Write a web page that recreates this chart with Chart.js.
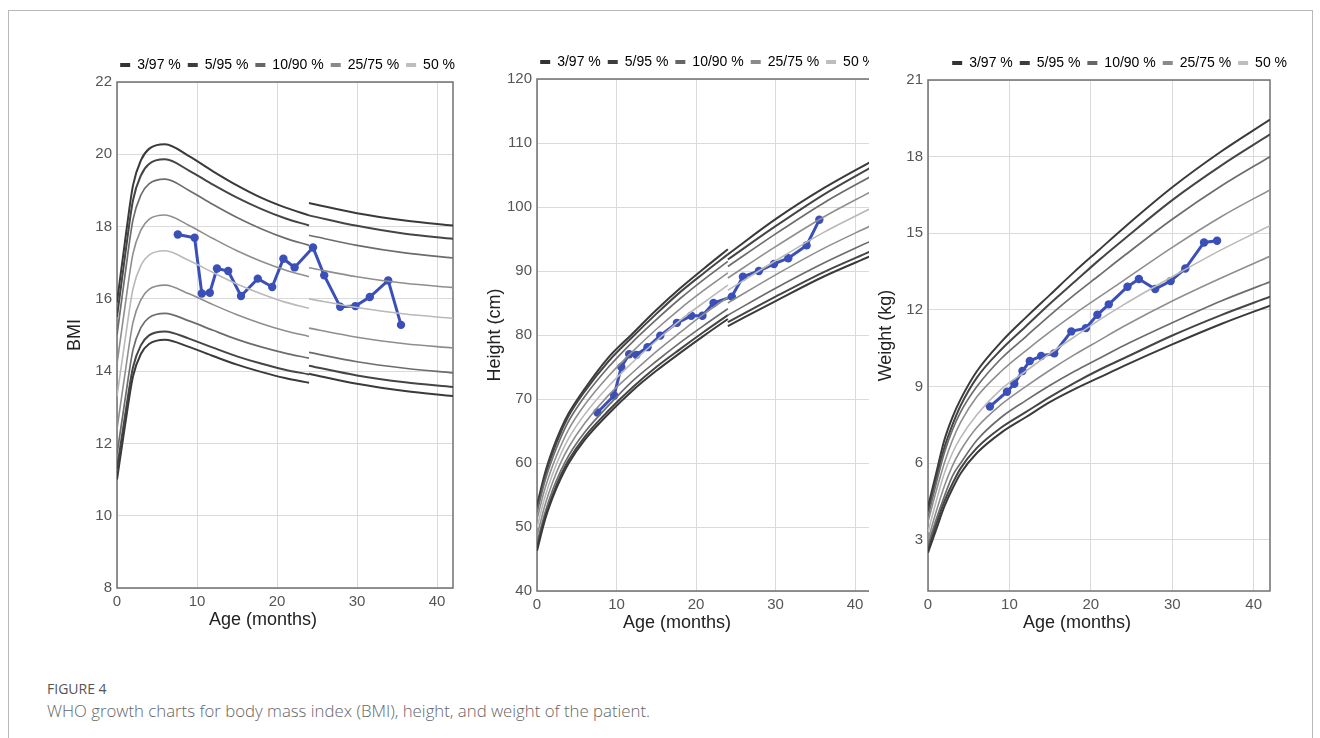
<!DOCTYPE html>
<html>
<head>
<meta charset="utf-8">
<title>WHO growth charts</title>
<script src="https://cdn.jsdelivr.net/npm/chart.js@4.4.1/dist/chart.umd.min.js"></script>
<style>
  body { margin: 0; width: 1320px; height: 738px; overflow: hidden; position: relative; background: #fff; }
  .frame { position: absolute; left: 8px; top: 10px; width: 1303px; height: 740px; border: 1px solid #b8b8b8; }
  .box { position: absolute; }
  #clip2 { position: absolute; left: 480px; top: 40px; width: 389px; height: 596px; overflow: hidden; }
  .cap-num { position: absolute; left: 47px; top: 679px; font: 14px 'Open Sans', sans-serif; color: #555; }
  .cap-text { position: absolute; left: 47px; top: 699px; font: 300 16.8px 'Open Sans', sans-serif; color: #666; }
</style>
</head>
<body>
<div class="frame"></div>

<div class="box" style="left:60px; top:40px; width:402px; height:593px;"><canvas id="bmiChart"></canvas></div>
<div id="clip2"><div style="width:402px; height:596px;"><canvas id="heightChart"></canvas></div></div>
<div class="box" style="left:871px; top:40px; width:423px; height:596px;"><canvas id="weightChart"></canvas></div>

<div class="cap-num">FIGURE 4</div>
<div class="cap-text">WHO growth charts for body mass index (BMI), height, and weight of the patient.</div>

<script>
// --- legend / ticks ---
const legendNames = ['3/97 %', '5/95 %', '10/90 %', '25/75 %', '50 %'];
const ageTicks = [0, 10, 20, 30, 40];
const weightTicks = [3, 6, 9, 12, 15, 18, 21];

// --- patient ---
const patientAges = [7.6, 9.7, 10.6, 11.6, 12.5, 13.9, 15.5, 17.6, 19.4, 20.8, 22.2, 24.5, 25.9, 27.9, 29.8, 31.6, 33.9, 35.5];
const patientBmi = [17.78, 17.69, 16.15, 16.17, 16.84, 16.77, 16.08, 16.56, 16.33, 17.11, 16.87, 17.42, 16.65, 15.78, 15.8, 16.05, 16.51, 15.28];
const patientHeight = [67.9, 70.55, 75.0, 77.0, 76.9, 78.1, 79.9, 81.9, 83.0, 83.0, 85.0, 86.0, 89.1, 90.0, 91.1, 92.0, 94.0, 98.0];
const patientWeight = [8.22, 8.8, 9.11, 9.61, 10.0, 10.2, 10.3, 11.16, 11.29, 11.81, 12.22, 12.91, 13.21, 12.82, 13.13, 13.62, 14.64, 14.71];

// --- BMI reference curves (null = break at 24 months) ---
const bmiAges = [0, 1, 2, 3, 4, 6, 9, 12, 15, 18, 21, 24, 24, 24, 30, 36, 42];
const bmiP3 = [11.0, 12.49, 13.86, 14.48, 14.75, 14.87, 14.67, 14.42, 14.18, 13.98, 13.81, 13.68, null, 13.93, 13.65, 13.45, 13.31];
const bmiP5 = [11.3, 12.76, 14.11, 14.72, 14.99, 15.1, 14.9, 14.65, 14.41, 14.21, 14.04, 13.91, null, 14.15, 13.88, 13.69, 13.56];
const bmiP10 = [11.7, 13.2, 14.59, 15.21, 15.48, 15.6, 15.39, 15.13, 14.88, 14.67, 14.5, 14.36, null, 14.52, 14.26, 14.08, 13.95];
const bmiP25 = [12.4, 13.93, 15.35, 15.98, 16.26, 16.38, 16.14, 15.84, 15.56, 15.32, 15.12, 14.96, null, 15.19, 14.94, 14.76, 14.64];
const bmiP50 = [13.3, 14.85, 16.28, 16.93, 17.21, 17.33, 17.06, 16.73, 16.41, 16.14, 15.91, 15.74, null, 16.0, 15.76, 15.58, 15.46];
const bmiP75 = [14.2, 15.79, 17.25, 17.91, 18.2, 18.32, 18.03, 17.67, 17.33, 17.04, 16.8, 16.61, null, 16.86, 16.61, 16.43, 16.31];
const bmiP90 = [15.0, 16.66, 18.19, 18.88, 19.18, 19.31, 19.0, 18.61, 18.25, 17.94, 17.68, 17.48, null, 17.76, 17.48, 17.27, 17.13];
const bmiP95 = [15.5, 17.18, 18.73, 19.42, 19.73, 19.86, 19.55, 19.16, 18.8, 18.49, 18.23, 18.03, null, 18.31, 18.02, 17.8, 17.66];
const bmiP97 = [15.9, 17.59, 19.14, 19.84, 20.15, 20.28, 19.95, 19.53, 19.14, 18.8, 18.53, 18.31, null, 18.65, 18.37, 18.17, 18.03];

// --- height reference curves ---
const heightAges = [0, 1, 2, 3, 4, 6, 9, 12, 15, 18, 21, 24, 24, 24, 30, 36, 42];
const heightP3 = [46.3, 51.1, 54.7, 57.6, 60.0, 63.6, 67.7, 71.3, 74.4, 77.2, 79.9, 82.5, null, 81.4, 85.3, 89.1, 92.35];
const heightP5 = [46.8, 51.5, 55.1, 58.1, 60.5, 64.1, 68.2, 71.8, 75.0, 77.8, 80.5, 83.1, null, 82.0, 86.0, 89.8, 93.1];
const heightP10 = [47.5, 52.2, 55.9, 58.8, 61.2, 64.8, 69.0, 72.8, 75.9, 78.8, 81.5, 84.1, null, 83.1, 87.3, 91.2, 94.7];
const heightP25 = [48.6, 53.4, 57.1, 60.1, 62.5, 66.2, 70.6, 74.1, 77.4, 80.4, 83.3, 85.9, null, 85.0, 89.4, 93.5, 97.1];
const heightP50 = [49.9, 54.7, 58.4, 61.4, 63.9, 67.6, 72.0, 75.7, 79.1, 82.3, 85.1, 87.8, null, 87.0, 91.6, 96.0, 99.8];
const heightP75 = [51.2, 56.0, 59.7, 62.7, 65.3, 69.1, 73.6, 77.4, 80.9, 84.1, 87.0, 89.7, null, 88.9, 93.8, 98.4, 102.4];
const heightP90 = [52.3, 57.2, 60.9, 64.0, 66.6, 70.4, 75.0, 78.9, 82.4, 85.7, 88.7, 91.5, null, 90.7, 95.8, 100.6, 104.8];
const heightP95 = [53.0, 57.9, 61.7, 64.8, 67.4, 71.2, 75.9, 79.7, 83.3, 86.7, 89.7, 92.6, null, 91.8, 97.0, 101.9, 106.2];
const heightP97 = [53.4, 58.4, 62.2, 65.3, 67.8, 71.6, 76.5, 80.2, 83.9, 87.3, 90.4, 93.4, null, 92.6, 98.1, 102.9, 107.1];

// --- weight reference curves ---
const weightAges = [0, 1, 2, 3, 4, 6, 9, 12, 15, 18, 21, 24, 30, 36, 42];
const weightP3 = [2.5, 3.4, 4.3, 5.0, 5.6, 6.4, 7.2, 7.8, 8.4, 8.9, 9.35, 9.8, 10.65, 11.45, 12.17];
const weightP5 = [2.6, 3.6, 4.5, 5.2, 5.8, 6.6, 7.4, 8.0, 8.6, 9.15, 9.65, 10.1, 11.0, 11.8, 12.52];
const weightP10 = [2.8, 3.8, 4.7, 5.5, 6.0, 6.9, 7.8, 8.45, 9.05, 9.6, 10.1, 10.6, 11.5, 12.35, 13.1];
const weightP25 = [3.0, 4.1, 5.1, 5.9, 6.5, 7.4, 8.3, 9.0, 9.65, 10.25, 10.8, 11.35, 12.35, 13.25, 14.1];
const weightP50 = [3.3, 4.5, 5.6, 6.4, 7.0, 7.9, 8.9, 9.6, 10.3, 10.95, 11.6, 12.2, 13.3, 14.35, 15.3];
const weightP75 = [3.7, 4.9, 6.0, 6.9, 7.6, 8.6, 9.6, 10.4, 11.15, 11.85, 12.5, 13.15, 14.45, 15.65, 16.7];
const weightP90 = [3.9, 5.2, 6.4, 7.3, 8.0, 9.0, 10.1, 10.95, 11.8, 12.6, 13.35, 14.1, 15.55, 16.85, 18.0];
const weightP95 = [4.1, 5.4, 6.6, 7.5, 8.25, 9.35, 10.45, 11.35, 12.25, 13.1, 13.95, 14.75, 16.3, 17.65, 18.87];
const weightP97 = [4.3, 5.6, 6.9, 7.8, 8.5, 9.6, 10.75, 11.7, 12.6, 13.5, 14.35, 15.2, 16.8, 18.2, 19.45];

// colours: darkest for 3/97, lightest for 50
const legendColors = ['#333333', '#3d3d3d', '#666666', '#8a8a8a', '#bdbdbd'];
const lineColors = ['#3a3a3a', '#454545', '#6c6c6c', '#8e8e8e', '#b9b9b9', '#8e8e8e', '#6c6c6c', '#454545', '#3a3a3a'];
const lineWidths = [2, 2, 1.7, 1.6, 1.6, 1.6, 1.7, 2, 2];
const patientColor = '#3b4fb8';

Chart.defaults.font.family = "'Liberation Sans', Arial, sans-serif";
Chart.defaults.color = '#555';

// draws the box round the plot area
const framePlugin = {
  id: 'frame',
  beforeDatasetsDraw(chart) {
    const { ctx, chartArea: a } = chart;
    ctx.save();
    ctx.strokeStyle = '#707070';
    ctx.lineWidth = 1.5;
    ctx.strokeRect(a.left, a.top, a.right - a.left, a.bottom - a.top);
    ctx.restore();
  }
};

// x axis title, shifted left like in the figure (it is centred on the whole panel there)
const xTitlePlugin = {
  id: 'xTitle',
  afterDraw(chart, args, opts) {
    const { ctx, chartArea: a } = chart;
    ctx.save();
    ctx.font = "18px 'Liberation Sans', Arial, sans-serif";
    ctx.fillStyle = '#222';
    ctx.textAlign = 'center';
    ctx.textBaseline = 'middle';
    ctx.fillText(opts.text, (a.left + a.right) / 2 + opts.shift, a.bottom + 32);
    ctx.restore();
  }
};

function toPoints(xs, ys) {
  return xs.map((x, i) => ({ x: x, y: ys[i] }));
}

function makeChart(id, opts) {
  const datasets = opts.curves.map((ys, i) => ({
    data: toPoints(opts.ages, ys),
    borderColor: lineColors[i],
    borderWidth: lineWidths[i],
    pointRadius: 0,
    cubicInterpolationMode: 'monotone',
    spanGaps: false,
    fill: false
  }));
  datasets.push({
    data: toPoints(patientAges, opts.patient),
    borderColor: patientColor,
    backgroundColor: patientColor,
    borderWidth: 3,
    pointRadius: 4.2,
    pointBorderWidth: 0,
    tension: 0,
    fill: false
  });

  return new Chart(document.getElementById(id), {
    type: 'line',
    data: { datasets: datasets },
    plugins: [framePlugin, xTitlePlugin],
    options: {
      responsive: true,
      maintainAspectRatio: false,
      animation: false,
      events: [],
      layout: { padding: { top: opts.padTop, left: 0, right: 0, bottom: 0 } },
      plugins: {
        tooltip: { enabled: false },
        xTitle: { text: 'Age (months)', shift: opts.titleShift },
        legend: {
          display: true,
          position: 'top',
          align: 'end',
          labels: {
            boxWidth: 10,
            boxHeight: 4,
            padding: 7,
            color: '#333',
            font: { size: 14 },
            generateLabels: () => legendNames.map((t, i) => ({
              text: t, fillStyle: legendColors[i], strokeStyle: legendColors[i], lineWidth: 0, hidden: false
            }))
          }
        }
      },
      scales: {
        x: {
          type: 'linear', min: 0, max: 42,
          afterBuildTicks: s => { s.ticks = ageTicks.map(v => ({ value: v })); },
          afterFit: s => { s.height = 45; },
          grid: { color: '#dadada', drawTicks: false },
          border: { display: false },
          ticks: { padding: 5, color: '#555', font: { size: 15 } }
        },
        y: {
          type: 'linear', min: opts.yMin, max: opts.yMax,
          afterBuildTicks: s => { s.ticks = opts.yTicks.map(v => ({ value: v })); },
          afterFit: s => { s.width = 57; },
          grid: { color: '#dadada', drawTicks: false },
          border: { display: false },
          ticks: { padding: 5, color: '#555', font: { size: 15 } },
          title: { display: true, text: opts.yTitle, color: '#222', font: { size: 18 } }
        },
        // empty axis, only keeps room on the right so the legend can stick out
        pad: {
          type: 'linear', position: 'right', display: true,
          ticks: { display: false },
          grid: { display: false, drawTicks: false },
          border: { display: false },
          afterFit: s => { s.width = opts.padRight; }
        }
      }
    }
  });
}

makeChart('bmiChart', {
  ages: bmiAges,
  curves: [bmiP3, bmiP5, bmiP10, bmiP25, bmiP50, bmiP75, bmiP90, bmiP95, bmiP97],
  patient: patientBmi,
  yMin: 8, yMax: 22, yTicks: [8, 10, 12, 14, 16, 18, 20, 22],
  yTitle: 'BMI', padTop: 11, padRight: 9, titleShift: -22
});

makeChart('heightChart', {
  ages: heightAges,
  curves: [heightP3, heightP5, heightP10, heightP25, heightP50, heightP75, heightP90, heightP95, heightP97],
  patient: patientHeight,
  yMin: 40, yMax: 120, yTicks: [40, 50, 60, 70, 80, 90, 100, 110, 120],
  yTitle: 'Height (cm)', padTop: 8, padRight: 11, titleShift: -27
});

makeChart('weightChart', {
  ages: weightAges,
  curves: [weightP3, weightP5, weightP10, weightP25, weightP50, weightP75, weightP90, weightP95, weightP97],
  patient: patientWeight,
  yMin: 1, yMax: 21, yTicks: weightTicks,
  yTitle: 'Weight (kg)', padTop: 9, padRight: 24, titleShift: -22
});
</script>
</body>
</html>
